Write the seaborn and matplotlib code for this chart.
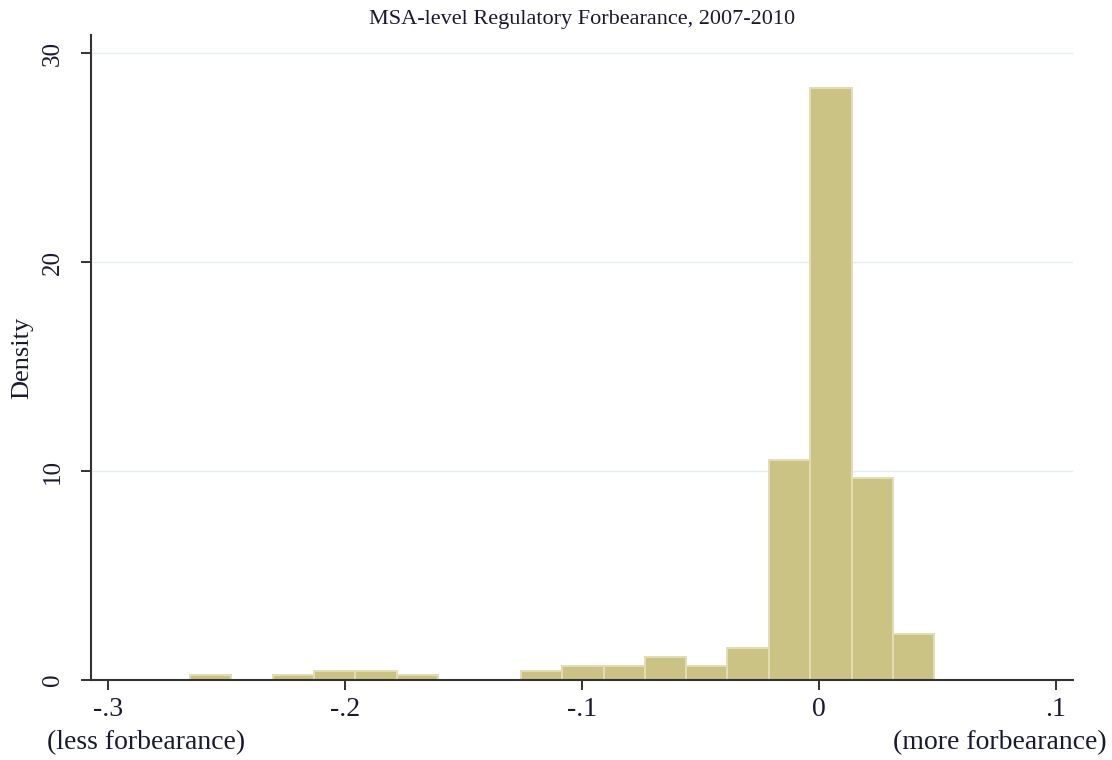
import numpy as np
import pandas as pd
import matplotlib
matplotlib.use("Agg")
import matplotlib.pyplot as plt
import seaborn as sns

# Histogram of MSA-level forbearance: bin edges and MSA counts per bin
bin_edges = [-0.2654, -0.2480, -0.2305, -0.2131, -0.1956, -0.1782, -0.1607,
             -0.1433, -0.1258, -0.1084, -0.0909, -0.0735, -0.0560, -0.0386,
             -0.0211, -0.0037, 0.0138, 0.0312, 0.0487]
bin_counts = [1, 0, 1, 2, 2, 1, 0, 0, 2, 3, 3, 5, 3, 7, 48, 130, 44, 10]

x_ticks = [-0.3, -0.2, -0.1, 0.0, 0.1]
x_tick_labels = ["-.3", "-.2", "-.1", "0", ".1"]
y_ticks = [0, 10, 20, 30]
y_tick_labels = ["0", "10", "20", "30"]

title = "MSA-level Regulatory Forbearance, 2007-2010"
y_label = "Density"
left_note = "(less forbearance)"
right_note = "(more forbearance)"

edges = np.array(bin_edges)
df = pd.DataFrame({
    "forbearance": (edges[:-1] + edges[1:]) / 2,
    "count": bin_counts,
})

sns.set_style("white")
plt.rcParams["font.family"] = ["Liberation Serif", "DejaVu Serif"]

W, H = 1112, 760
fig = plt.figure(figsize=(W / 100, H / 100), dpi=100)
ax = fig.add_axes([91 / W, 1 - 680 / H, (1073 - 91) / W, (680 - 35) / H])

sns.histplot(data=df, x="forbearance", weights="count", bins=list(bin_edges),
             stat="density", color="#cbc383", edgecolor="#e2ddb4",
             linewidth=1.4, alpha=1, ax=ax, zorder=2)

ax.set_xlim(-0.3072, 0.1072)
ax.set_ylim(0, 30.88)

ax.set_yticks(y_ticks)
ax.set_yticklabels(y_tick_labels, rotation=90, va="center")
ax.set_xticks(x_ticks)
ax.set_xticklabels(x_tick_labels)

text_color = "#1a1a2e"
ax.tick_params(axis="both", which="major", direction="out", length=7.5,
               width=1.4, color="#333333", labelcolor=text_color,
               left=True, bottom=True)
ax.tick_params(axis="y", pad=12, labelsize=18)
ax.tick_params(axis="x", pad=5, labelsize=20)

ax.yaxis.grid(True, color="#e6eff0", linewidth=1.0, zorder=0)
ax.xaxis.grid(False)
ax.set_axisbelow(True)

for side in ("top", "right"):
    ax.spines[side].set_visible(False)
for side in ("left", "bottom"):
    ax.spines[side].set_color("#333333")
    ax.spines[side].set_linewidth(1.5)

ax.set_xlabel("")
ax.set_ylabel(y_label, fontsize=19, color=text_color, labelpad=6)
ax.set_title(title, fontsize=16, color=text_color, pad=8)

fig.text(47 / W, 1 - 743 / H, left_note, ha="left", va="center",
         fontsize=20, color=text_color)
fig.text(893 / W, 1 - 743 / H, right_note, ha="left", va="center",
         fontsize=20, color=text_color)

fig.savefig("out.png", dpi=100)
